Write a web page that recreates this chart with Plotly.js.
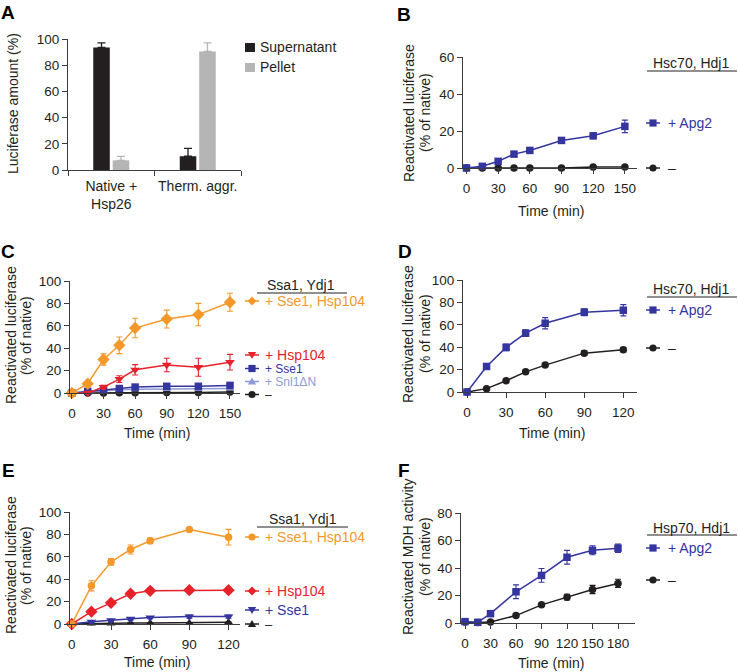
<!DOCTYPE html>
<html><head><meta charset="utf-8">
<script src="https://cdn.plot.ly/plotly-3.0.1.min.js"></script>
<style>html,body{margin:0;padding:0;background:#fff}</style>
</head><body><div id="chart" style="width:738px;height:672px"></div>
<script>
// ---------- Panel A ----------
const catsA = ['Native +<br>Hsp26', 'Therm. aggr.'];
const aSuper = [93.5, 10.5];
const aSuperErr = [3.5, 6];
const aPellet = [7.4, 90.5];
const aPelletErr = [3, 6.5];
const yTicksA = [0, 20, 40, 60, 80, 100];

// ---------- Panel B ----------
const timesB = [0, 15, 30, 45, 60, 90, 120, 150];
const bApg2 = [0, 0.9, 3.6, 7.5, 9.5, 14.9, 17.4, 22.5];
const bApg2Err = [0, 0.4, 0.6, 0.8, 0.8, 1, 1.5, 3.4];
const bNone = [0, 0, 0, 0, 0, 0, 0.5, 0.5];
const bNoneErr = [0, 0, 0, 0, 0, 0, 0.3, 0.3];
const xTicksB = [0, 30, 60, 90, 120, 150];
const yTicksB = [0, 20, 40, 60];

// ---------- Panel C ----------
const timesC = [0, 15, 30, 45, 60, 90, 120, 150];
const cSseHsp = [0, 8.3, 29.9, 42.6, 58, 66, 70, 81];
const cSseHspErr = [0, 1, 5, 7.4, 8.7, 8, 10, 8];
const cHsp104 = [0, 0, 5.3, 12.4, 20.7, 25, 23, 27.5];
const cHsp104Err = [0, 0, 1.5, 3, 4.6, 6, 8, 7];
const cSse1 = [0, 1.5, 3, 4, 5.3, 6, 6, 6.8];
const cSse1Err = [0, 0.5, 1, 1, 1, 1.5, 1.5, 1.5];
const cSnl1 = [0, 1, 2.4, 3, 3.3, 3.6, 3.8, 4];
const cSnl1Err = [0, 0.5, 0.8, 0.8, 0.8, 1, 1, 1];
const cNone = [0, 0, 0, 0.3, 0.3, 0.5, 0.5, 1];
const cNoneErr = [0, 0, 0, 0.2, 0.2, 0.3, 0.3, 0.5];
const xTicksC = [0, 30, 60, 90, 120, 150];
const yTicksC = [0, 20, 40, 60, 80, 100];

// ---------- Panel D ----------
const timesD = [0, 15, 30, 45, 60, 90, 120];
const dApg2 = [0, 22.8, 39.8, 52.5, 61.4, 71.2, 73];
const dApg2Err = [0, 1.5, 3, 3, 5, 3, 5];
const dNone = [0, 3, 10, 18, 24, 34.7, 37.7];
const dNoneErr = [0, 0.5, 1, 1, 1, 2, 2];
const xTicksD = [0, 30, 60, 90, 120];
const yTicksD = [0, 20, 40, 60, 80, 100];

// ---------- Panel E ----------
const timesE = [0, 15, 30, 45, 60, 90, 120];
const eSseHsp = [0, 34.1, 55.4, 66.5, 74.3, 84.4, 77.5];
const eSseHspErr = [0, 4.5, 3, 4, 2.5, 1, 7];
const eHsp104 = [0, 11, 18.9, 27, 29.6, 30.2, 30.2];
const eHsp104Err = [0, 1, 1, 1, 1, 1, 1];
const eSse1 = [0, 2, 3.3, 4.5, 5.7, 6.6, 6.6];
const eSse1Err = [0, 1, 1, 1, 1, 1.5, 1.5];
const eNone = [0, 0.5, 0.5, 1, 1, 1, 1.5];
const eNoneErr = [0, 0.3, 0.3, 0.3, 0.3, 0.3, 0.3];
const xTicksE = [0, 30, 60, 90, 120];
const yTicksE = [0, 20, 40, 60, 80, 100];

// ---------- Panel F ----------
const timesF = [0, 15, 30, 60, 90, 120, 150, 180];
const fApg2 = [1, 0.5, 6.8, 22.7, 34.6, 47.8, 52.9, 54.4];
const fApg2Err = [1, 1, 1, 5, 5, 5, 3.3, 3];
const fNone = [0.7, 0.3, 0.7, 5.4, 13.2, 18.8, 24.4, 28.8];
const fNoneErr = [0.5, 0.5, 0.5, 1, 1, 2, 3, 3];
const xTicksF = [0, 30, 60, 90, 120, 150, 180];
const yTicksF = [0, 20, 40, 60, 80];

// ---------- styling ----------
const W = 738, H = 672;
const FONT = 'Liberation Sans, Arial, Helvetica, sans-serif';
const INK = '#231f20';
const AX = '#3c3c3c';
const ORANGE = '#f5982a', RED = '#e8222b', BLUE = '#34359f', LIGHT = '#8d9bd8', BLACK = '#231f20', GRAY = '#b5b5b5';
const px = x => x / W;
const py = y => 1 - y / H;

function series(xa, ya, x, y, err, color, symbol, size) {
  return {
    type: 'scatter', mode: 'lines+markers', x: x, y: y, xaxis: xa, yaxis: ya,
    line: {color: color, width: 1.5},
    marker: {color: color, symbol: symbol, size: size, line: {width: 0}},
    error_y: {type: 'data', array: err, visible: true, color: color, thickness: 1.1, width: 3},
    cliponaxis: false, hoverinfo: 'skip', showlegend: false
  };
}

const traces = [
  {type: 'bar', x: catsA, y: aSuper, xaxis: 'x', yaxis: 'y', marker: {color: INK},
   error_y: {type: 'data', symmetric: false, array: aSuperErr, arrayminus: [0, 0], color: INK, thickness: 1.3, width: 4},
   showlegend: false, hoverinfo: 'skip'},
  {type: 'bar', x: catsA, y: aPellet, xaxis: 'x', yaxis: 'y', marker: {color: GRAY},
   error_y: {type: 'data', symmetric: false, array: aPelletErr, arrayminus: [0, 0], color: GRAY, thickness: 1.3, width: 4},
   showlegend: false, hoverinfo: 'skip'},

  series('x2', 'y2', timesB, bNone, bNoneErr, BLACK, 'circle', 7.5),
  series('x2', 'y2', timesB, bApg2, bApg2Err, BLUE, 'square', 7.5),

  series('x3', 'y3', timesC, cNone, cNoneErr, BLACK, 'circle', 7.5),
  series('x3', 'y3', timesC, cSnl1, cSnl1Err, LIGHT, 'triangle-up', 8),
  series('x3', 'y3', timesC, cSse1, cSse1Err, BLUE, 'square', 7.5),
  series('x3', 'y3', timesC, cHsp104, cHsp104Err, RED, 'triangle-down', 8.5),
  series('x3', 'y3', timesC, cSseHsp, cSseHspErr, ORANGE, 'diamond', 9.5),

  series('x4', 'y4', timesD, dNone, dNoneErr, BLACK, 'circle', 7.5),
  series('x4', 'y4', timesD, dApg2, dApg2Err, BLUE, 'square', 7.5),

  series('x5', 'y5', timesE, eNone, eNoneErr, BLACK, 'triangle-up', 8),
  series('x5', 'y5', timesE, eSse1, eSse1Err, BLUE, 'triangle-down', 8.5),
  series('x5', 'y5', timesE, eHsp104, eHsp104Err, RED, 'diamond', 9.5),
  series('x5', 'y5', timesE, eSseHsp, eSseHspErr, ORANGE, 'circle', 7.5),

  series('x6', 'y6', timesF, fNone, fNoneErr, BLACK, 'circle', 7.5),
  series('x6', 'y6', timesF, fApg2, fApg2Err, BLUE, 'square', 7.5)
];

function axBase(extra) {
  return Object.assign({
    showline: true, linecolor: AX, linewidth: 1, ticks: 'outside', ticklen: 5, tickwidth: 1, tickcolor: AX,
    showgrid: false, zeroline: false, fixedrange: true,
    tickfont: {family: FONT, size: 13.5, color: INK}
  }, extra);
}
const xExtra = {ticklabelstandoff: 3};

const layout = {
  width: W, height: H, margin: {l: 0, r: 0, t: 0, b: 0},
  paper_bgcolor: '#fff', plot_bgcolor: 'rgba(0,0,0,0)',
  font: {family: FONT, color: INK},
  showlegend: false, barmode: 'group', bargap: 0.55, bargroupgap: 0.15,
  xaxis: axBase({domain: [px(68), px(241)], anchor: 'y', type: 'category', range: [-0.5, 1.5], tickson: 'boundaries', tickangle: 0, ticklabelstandoff: 3, tickfont: {family: FONT, size: 14, color: INK}}),
  yaxis: axBase({domain: [py(170), py(39)], anchor: 'x', range: [0, 100], tickvals: yTicksA}),
  xaxis2: axBase(Object.assign({domain: [px(463), px(637)], anchor: 'y2', range: [-3.3, 161.5], tickvals: xTicksB}, xExtra)),
  yaxis2: axBase({domain: [py(168), py(57)], anchor: 'x2', range: [0, 60], tickvals: yTicksB}),
  xaxis3: axBase(Object.assign({domain: [px(70), px(240)], anchor: 'y3', range: [-1.8, 159.5], tickvals: xTicksC}, xExtra)),
  yaxis3: axBase({domain: [py(393), py(281)], anchor: 'x3', range: [0, 100], tickvals: yTicksC}),
  xaxis4: axBase(Object.assign({domain: [px(463), px(637)], anchor: 'y4', range: [-3.1, 130.5], tickvals: xTicksD}, xExtra)),
  yaxis4: axBase({domain: [py(392), py(280)], anchor: 'x4', range: [0, 100], tickvals: yTicksD}),
  xaxis5: axBase(Object.assign({domain: [px(70), px(240)], anchor: 'y5', range: [-1.4, 128.8], tickvals: xTicksE}, xExtra)),
  yaxis5: axBase({domain: [py(624), py(512)], anchor: 'x5', range: [0, 100], tickvals: yTicksE}),
  xaxis6: axBase(Object.assign({domain: [px(461), px(635)], anchor: 'y6', range: [-4.7, 200], tickvals: xTicksF}, xExtra)),
  yaxis6: axBase({domain: [py(623), py(513)], anchor: 'x6', range: [0, 80], tickvals: yTicksF}),
  shapes: [], annotations: []
};

function text(t, x, y, opts) {
  layout.annotations.push(Object.assign({
    text: t, x: px(x), y: py(y), xref: 'paper', yref: 'paper', showarrow: false,
    xanchor: 'center', yanchor: 'middle', borderpad: 0, font: {family: FONT, size: 14, color: INK}
  }, opts || {}));
}
function hline(x0, x1, y, color, w) {
  layout.shapes.push({type: 'line', xref: 'paper', yref: 'paper', x0: px(x0), x1: px(x1), y0: py(y), y1: py(y), line: {color: color, width: w || 1}});
}
function mark(sym, cx, cy, r, color) {
  const s = {xref: 'paper', yref: 'paper', fillcolor: color, line: {width: 0}};
  if (sym === 'square') Object.assign(s, {type: 'rect', x0: px(cx - r), x1: px(cx + r), y0: py(cy - r), y1: py(cy + r)});
  else if (sym === 'circle') Object.assign(s, {type: 'circle', x0: px(cx - r), x1: px(cx + r), y0: py(cy - r), y1: py(cy + r)});
  else {
    let pts;
    if (sym === 'diamond') pts = [[cx, cy - r * 1.25], [cx + r * 1.25, cy], [cx, cy + r * 1.25], [cx - r * 1.25, cy]];
    else if (sym === 'triangle-down') pts = [[cx - r * 1.15, cy - r * 0.8], [cx + r * 1.15, cy - r * 0.8], [cx, cy + r * 1.1]];
    else pts = [[cx - r * 1.15, cy + r * 0.8], [cx + r * 1.15, cy + r * 0.8], [cx, cy - r * 1.1]];
    s.type = 'path';
    s.path = 'M' + pts.map(p => px(p[0]) + ',' + py(p[1])).join('L') + 'Z';
  }
  layout.shapes.push(s);
}
function legendRow(mx, tx, y, sym, color, label, size) {
  hline(mx - 7, mx + 7, y, color, 1.5);
  mark(sym, mx, y, 3.6, color);
  text(label, tx, y, {xanchor: 'left', font: {family: FONT, size: size || 14, color: color}});
}
function header(label, cx, y, x0, x1, uy) {
  text(label, cx, y);
  hline(x0, x1, uy, INK, 1);
}

// Panel letters
[['A', 8, 12], ['B', 404, 14], ['C', 8, 251], ['D', 405, 251], ['E', 8, 470], ['F', 404, 470]].forEach(l =>
  text('<b>' + l[0] + '</b>', l[1], l[2], {font: {family: FONT, size: 19, color: '#000'}}));

// Y-axis titles
const rot = {textangle: -90};
text('Luciferase amount (%)', 13, 104, rot);
text('Reactivated luciferase', 409, 113, rot); text('(% of native)', 425, 113, rot);
text('Reactivated luciferase', 11, 335, rot); text('(% of native)', 26, 335, rot);
text('Reactivated luciferase', 408, 334, rot); text('(% of native)', 425, 334, rot);
text('Reactivated luciferase', 11, 565, rot); text('(% of native)', 26, 565, rot);
text('Reactivated MDH activity', 408, 557, rot); text('(% of native)', 425, 557, rot);

// X-axis titles
text('Time (min)', 551, 211); text('Time (min)', 157, 433); text('Time (min)', 552, 433);
text('Time (min)', 157, 662); text('Time (min)', 551, 663);

// Panel A legend
layout.shapes.push({type: 'rect', xref: 'paper', yref: 'paper', x0: px(245), x1: px(255), y0: py(43), y1: py(52), fillcolor: INK, line: {width: 0}});
layout.shapes.push({type: 'rect', xref: 'paper', yref: 'paper', x0: px(245), x1: px(255), y0: py(63), y1: py(72), fillcolor: GRAY, line: {width: 0}});
text('Supernatant', 259, 47, {xanchor: 'left'});
text('Pellet', 259, 67, {xanchor: 'left'});

// Panel B legend
header('Hsc70, Hdj1', 691, 63, 647, 737, 71);
legendRow(653, 667, 123, 'square', BLUE, '+ Apg2');
legendRow(653, 667, 168, 'circle', BLACK, '–');

// Panel C legend
header('Ssa1, Ydj1', 301, 285, 257, 347, 293);
legendRow(252, 264, 301, 'diamond', ORANGE, '+ Sse1, Hsp104');
legendRow(252, 264, 355, 'triangle-down', RED, '+ Hsp104');
legendRow(252, 264, 368.5, 'square', BLUE, '+ Sse1', 12);
legendRow(252, 264, 381.5, 'triangle-up', LIGHT, '+ Snl1ΔN', 12);
legendRow(252, 264, 394.5, 'circle', BLACK, '–', 12);

// Panel D legend
header('Hsc70, Hdj1', 691, 289, 647, 737, 297);
legendRow(653, 667, 310, 'square', BLUE, '+ Apg2');
legendRow(653, 667, 348, 'circle', BLACK, '–');

// Panel E legend
header('Ssa1, Ydj1', 303, 519, 257, 348, 527);
legendRow(252, 264, 537, 'circle', ORANGE, '+ Sse1, Hsp104');
legendRow(252, 264, 591, 'diamond', RED, '+ Hsp104');
legendRow(252, 264, 610, 'triangle-down', BLUE, '+ Sse1');
legendRow(252, 264, 624, 'triangle-up', BLACK, '–', 13);

// Panel F legend
header('Hsp70, Hdj1', 691, 528, 647, 737, 535);
legendRow(653, 667, 548, 'square', BLUE, '+ Apg2');
legendRow(653, 667, 580, 'circle', BLACK, '–');

Plotly.newPlot('chart', traces, layout, {staticPlot: true, displayModeBar: false});
</script></body></html>
